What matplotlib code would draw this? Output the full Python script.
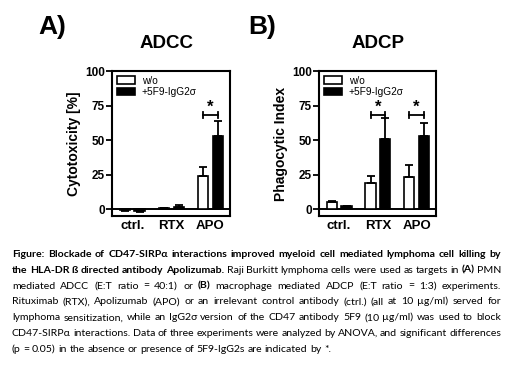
import numpy as np
import matplotlib
matplotlib.use("Agg")
import matplotlib.pyplot as plt
from matplotlib.patches import Patch

# groups and values
groups = ["ctrl.", "RTX", "APO"]
series_labels = ["w/o", "+5F9-IgG2\u03c3"]

adcc_wo = [-0.7, 0.5, 24.0]
adcc_wo_err = [0.6, 0.6, 6.8]
adcc_5f9 = [-1.2, 1.2, 52.8]
adcc_5f9_err = [0.6, 2.0, 10.8]
adcc_sig = [2]

adcp_wo = [4.8, 19.0, 23.5]
adcp_wo_err = [1.2, 5.0, 8.6]
adcp_5f9 = [2.0, 51.0, 53.0]
adcp_5f9_err = [0.6, 15.0, 9.5]
adcp_sig = [1, 2]

yticks = [0, 25, 50, 75, 100]

caption_lines = [
    ([("Figure: Blockade of CD47-SIRP\u03b1 interactions improved myeloid cell mediated lymphoma cell killing by", True)], True),
    ([("the HLA-DR \u00df directed antibody Apolizumab.", True),
      ("Raji Burkitt lymphoma cells were used as targets in", False),
      ("(A)", True), ("PMN", False)], True),
    ([("mediated ADCC (E:T ratio = 40:1) or", False), ("(B)", True),
      ("macrophage mediated ADCP (E:T ratio = 1:3) experiments.", False)], True),
    ([("Rituximab (RTX), Apolizumab (APO) or an irrelevant control antibody (ctrl.) (all at 10 \u00b5g/ml) served for", False)], True),
    ([("lymphoma sensitization, while an IgG2\u03c3 version of the CD47 antibody 5F9 (10 \u00b5g/ml) was used to block", False)], True),
    ([("CD47-SIRP\u03b1 interactions. Data of three experiments were analyzed by ANOVA, and significant differences", False)], True),
    ([("(p = 0.05) in the absence or presence of 5F9-IgG2s are indicated by *.", False)], False),
]

W, H = 520, 377
fig = plt.figure(figsize=(W / 100, H / 100), dpi=100)
plt.rcParams['font.family'] = ['Liberation Sans', 'DejaVu Sans']


def panel(rect, wo, wo_err, f9, f9_err, sig, ylabel):
    ax = fig.add_axes(rect)
    x = np.arange(len(groups))
    w = 0.27
    off = 0.19
    ax.axhline(0, color="black", lw=1.4, zorder=1)
    for xs, vals, errs, col in [(x - off, wo, wo_err, "white"), (x + off, f9, f9_err, "black")]:
        vals = np.array(vals)
        errs = np.array(errs)
        ax.bar(xs, vals, w, color=col, edgecolor="black", lw=1.2, zorder=2)
        lo = np.where(vals < 0, errs, 0)
        hi = np.where(vals >= 0, errs, 0)
        ax.errorbar(xs, vals, yerr=[lo, hi], fmt="none", ecolor="black",
                    elinewidth=1.3, capsize=3.2, capthick=1.3, zorder=3)
    for g in sig:
        ax.plot([g - off, g + off], [68, 68], color="black", lw=1.3)
        for xe in (g - off, g + off):
            ax.plot([xe, xe], [65.8, 70.2], color="black", lw=1.3)
        ax.text(g, 68.5, "*", ha="center", va="bottom", fontsize=12, fontweight="bold")
    ax.set_xlim(-0.52, 2.5)
    ax.set_ylim(-5, 100)
    ax.set_yticks(yticks)
    ax.set_yticklabels([str(t) for t in yticks], fontsize=8.5, fontweight="bold")
    ax.set_xticks(x)
    ax.set_xticklabels(groups, fontsize=9.5, fontweight="bold")
    ax.tick_params(axis="x", length=0, pad=3)
    ax.tick_params(axis="y", length=4, width=1.3, pad=1)
    for s in ax.spines.values():
        s.set_linewidth(1.5)
    ax.set_ylabel(ylabel, fontsize=10, fontweight="bold", labelpad=3)
    handles = [Patch(facecolor="white", edgecolor="black", lw=1.2),
               Patch(facecolor="black", edgecolor="black", lw=1.2)]
    ax.legend(handles, series_labels, loc="upper left", frameon=False, fontsize=7.3,
              handlelength=1.8, handleheight=0.75, labelspacing=0.15,
              handletextpad=0.7, borderpad=0.2, borderaxespad=0.25)
    return ax


axA = panel([112 / W, 1 - 216 / H, 118 / W, 145 / H], adcc_wo, adcc_wo_err,
            adcc_5f9, adcc_5f9_err, adcc_sig, "Cytotoxicity [%]")
axB = panel([319 / W, 1 - 216 / H, 117 / W, 145 / H], adcp_wo, adcp_wo_err,
            adcp_5f9, adcp_5f9_err, adcp_sig, "Phagocytic Index")

fig.text(38 / W, 1 - 27 / H, "A)", fontsize=19, fontweight="bold", ha="left", va="center")
fig.text(248 / W, 1 - 27 / H, "B)", fontsize=19, fontweight="bold", ha="left", va="center")
fig.text(166.5 / W, 1 - 43.5 / H, "ADCC", fontsize=13.5, fontweight="bold", ha="center", va="center")
fig.text(378.5 / W, 1 - 43.5 / H, "ADCP", fontsize=13.5, fontweight="bold", ha="center", va="center")

# caption, justified word by word; one size for all lines, small enough that every line fits
renderer = fig.canvas.get_renderer()
cap_font = ["Lato", "DejaVu Sans"]
size0 = 7.9
min_gap = 2.2
x0, x1 = 12, 501
base = 257
step = 15.8


def measure(text, bold, size):
    t = fig.text(0, 0, text, fontsize=size, family=cap_font,
                 fontweight="bold" if bold else "normal")
    wd = t.get_window_extent(renderer).width
    t.remove()
    return wd


ratio = 1.0
for segs, justify in caption_lines:
    words = [(wd, b) for text, b in segs for wd in text.split()]
    tot = sum(measure(wd, b, size0) for wd, b in words)
    room = x1 - x0 - min_gap * (len(words) - 1)
    ratio = min(ratio, room / tot)
cap_size = size0 * ratio * 0.995

for i, (segs, justify) in enumerate(caption_lines):
    words = [(wd, b) for text, b in segs for wd in text.split()]
    widths = [measure(wd, b, cap_size) for wd, b in words]
    n = len(words)
    if justify and n > 1:
        gap = (x1 - x0 - sum(widths)) / (n - 1)
    else:
        gap = 2.6
    xp = x0
    y = 1 - (base + i * step) / H
    for (wd, b), wdt in zip(words, widths):
        fig.text(xp / W, y, wd, fontsize=cap_size, family=cap_font,
                 fontweight="bold" if b else "normal", va="baseline")
        xp += wdt + gap

fig.savefig("out.png", dpi=100)
